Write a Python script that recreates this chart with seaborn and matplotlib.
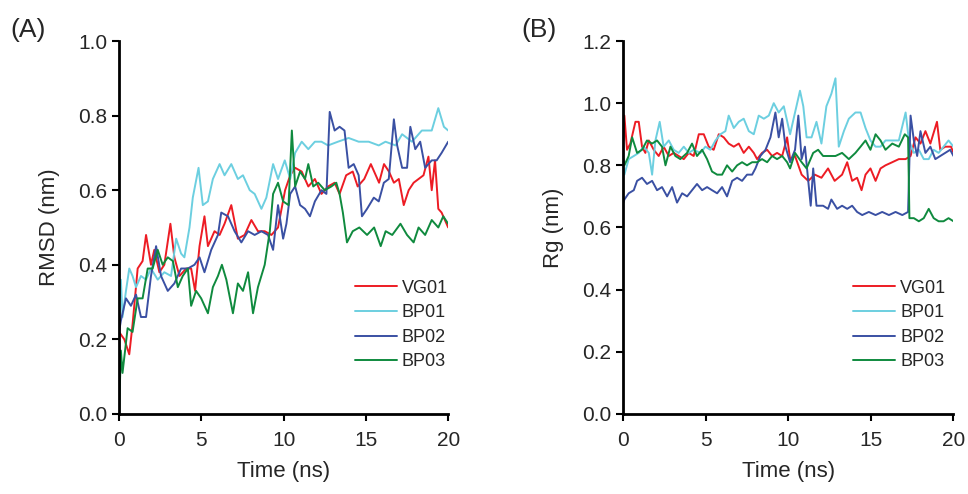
import pandas as pd
import matplotlib
matplotlib.use("Agg")
import matplotlib.pyplot as plt
import seaborn as sns

series_names = ["VG01", "BP01", "BP02", "BP03"]
colors = {"VG01": "#ed1c24", "BP01": "#6ccfe0", "BP02": "#3a50a3", "BP03": "#0f8a3e"}

# (A) RMSD (nm) vs time (ns)
rmsd_vg01_t = [0, 0.32, 0.62, 0.82, 1.13, 1.43, 1.64, 1.94, 2.14, 2.45, 2.75, 3.12, 3.36, 3.67, 4.08,
               4.38, 4.62, 4.89, 5.19, 5.40, 5.80, 6.11, 6.41, 6.82, 7.22, 7.63, 8.04, 8.44, 8.85, 9.26,
               9.66, 10.09, 10.4, 10.7, 11.1, 11.5, 11.9, 12.3, 12.7, 13.1, 13.4, 13.8, 14.2, 14.5,
               14.9, 15.3, 15.5, 15.8, 16.1, 16.4, 16.7, 17.0, 17.3, 17.6, 17.9, 18.2, 18.5, 18.8,
               19.0, 19.2, 19.4, 19.6, 20]
rmsd_vg01 = [0.22, 0.20, 0.16, 0.24, 0.39, 0.41, 0.48, 0.40, 0.44, 0.38, 0.40, 0.51, 0.42, 0.37, 0.39,
             0.39, 0.33, 0.45, 0.53, 0.45, 0.49, 0.48, 0.51, 0.56, 0.47, 0.48, 0.52, 0.49, 0.49, 0.48,
             0.50, 0.60, 0.64, 0.66, 0.65, 0.61, 0.63, 0.59, 0.61, 0.62, 0.59, 0.64, 0.65, 0.61,
             0.63, 0.67, 0.65, 0.62, 0.67, 0.65, 0.62, 0.63, 0.56, 0.60, 0.62, 0.63, 0.64, 0.69,
             0.60, 0.68, 0.55, 0.54, 0.50]

rmsd_bp01_t = [0, 0.11, 0.21, 0.42, 0.62, 0.82, 1.03, 1.33, 1.64, 1.94, 2.35, 2.75, 3.16, 3.47, 3.77,
               3.97, 4.28, 4.48, 4.83, 5.09, 5.40, 5.70, 6.11, 6.41, 6.82, 7.22, 7.53, 7.94, 8.24, 8.65,
               8.95, 9.36, 9.66, 10.07, 10.4, 10.7, 11.1, 11.5, 11.9, 12.3, 12.7, 13.3, 13.95, 14.56,
               15.17, 15.78, 16.19, 16.8, 17.2, 17.8, 18.4, 19.0, 19.4, 19.74, 20]
rmsd_bp01 = [0.30, 0.36, 0.26, 0.33, 0.39, 0.37, 0.34, 0.37, 0.36, 0.39, 0.36, 0.38, 0.37, 0.47, 0.43,
             0.42, 0.50, 0.58, 0.66, 0.56, 0.57, 0.63, 0.67, 0.64, 0.67, 0.63, 0.64, 0.60, 0.59, 0.55,
             0.58, 0.67, 0.63, 0.68, 0.63, 0.70, 0.73, 0.71, 0.73, 0.73, 0.72, 0.73, 0.74, 0.73,
             0.73, 0.72, 0.73, 0.72, 0.75, 0.73, 0.76, 0.76, 0.82, 0.77, 0.76]

rmsd_bp02_t = [0, 0.11, 0.42, 0.72, 1.03, 1.33, 1.64, 1.94, 2.25, 2.55, 2.96, 3.36, 3.77, 4.18, 4.58,
               4.89, 5.19, 5.60, 6.01, 6.21, 6.62, 7.02, 7.43, 7.84, 8.24, 8.65, 9.05, 9.36, 9.66, 9.97,
               10.17, 10.4, 10.7, 11.0, 11.3, 11.6, 11.9, 12.3, 12.6, 12.8, 13.1, 13.4, 13.7, 13.95,
               14.26, 14.56, 14.76, 15.07, 15.48, 15.78, 16.09, 16.39, 16.7, 16.9, 17.2, 17.5, 17.7,
               18.0, 18.3, 18.6, 19.0, 19.3, 19.6, 20]
rmsd_bp02 = [0.22, 0.25, 0.31, 0.29, 0.32, 0.26, 0.26, 0.37, 0.45, 0.37, 0.33, 0.35, 0.39, 0.39, 0.40,
             0.42, 0.38, 0.44, 0.48, 0.54, 0.53, 0.49, 0.46, 0.49, 0.48, 0.49, 0.48, 0.44, 0.56, 0.47,
             0.51, 0.59, 0.61, 0.56, 0.55, 0.53, 0.57, 0.60, 0.59, 0.81, 0.76, 0.77, 0.76, 0.66,
             0.67, 0.64, 0.53, 0.55, 0.58, 0.57, 0.62, 0.63, 0.79, 0.72, 0.66, 0.66, 0.77, 0.71,
             0.73, 0.66, 0.68, 0.68, 0.70, 0.73]

rmsd_bp03_t = [0, 0.11, 0.21, 0.52, 0.82, 1.13, 1.43, 1.74, 2.04, 2.35, 2.65, 2.96, 3.27, 3.57, 3.87,
               4.18, 4.38, 4.68, 4.99, 5.40, 5.70, 6.01, 6.25, 6.52, 6.92, 7.22, 7.53, 7.84, 8.14, 8.44,
               8.85, 9.16, 9.36, 9.66, 9.97, 10.3, 10.5, 10.7, 11.0, 11.3, 11.5, 11.8, 12.1, 12.5,
               12.9, 13.2, 13.4, 13.6, 13.85, 14.2, 14.6, 15.07, 15.5, 15.9, 16.2, 16.6, 17.1, 17.5,
               17.9, 18.2, 18.6, 19.0, 19.4, 19.7, 20]
rmsd_bp03 = [0.0, 0.17, 0.11, 0.23, 0.22, 0.31, 0.31, 0.39, 0.39, 0.44, 0.40, 0.42, 0.41, 0.34, 0.37,
             0.39, 0.29, 0.33, 0.31, 0.27, 0.34, 0.37, 0.40, 0.36, 0.27, 0.35, 0.33, 0.38, 0.27, 0.34,
             0.40, 0.49, 0.59, 0.62, 0.57, 0.56, 0.76, 0.61, 0.65, 0.63, 0.67, 0.61, 0.62, 0.60,
             0.61, 0.62, 0.59, 0.54, 0.46, 0.49, 0.50, 0.48, 0.50, 0.45, 0.49, 0.48, 0.51, 0.48,
             0.46, 0.50, 0.48, 0.52, 0.50, 0.53, 0.51]

# (B) Rg (nm) vs time (ns)
rg_vg01_t = [0, 0.06, 0.22, 0.42, 0.73, 0.93, 1.13, 1.33, 1.54, 1.84, 2.14, 2.44, 2.75, 3.05, 3.35,
             3.66, 3.96, 4.26, 4.57, 4.87, 5.17, 5.47, 5.78, 6.08, 6.38, 6.69, 6.99, 7.29, 7.60, 7.90,
             8.10, 8.40, 8.71, 9.01, 9.31, 9.62, 9.92, 10.1, 10.4, 10.8, 11.2, 11.6, 12.0, 12.4, 12.8,
             13.25, 13.56, 13.86, 14.16, 14.43, 14.67, 14.97, 15.28, 15.58, 15.88, 16.29, 16.69,
             17.1, 17.4, 17.7, 18.0, 18.3, 18.6, 19.0, 19.2, 19.5, 19.85, 20]
rg_vg01 = [0.88, 0.96, 0.85, 0.87, 0.94, 0.94, 0.86, 0.84, 0.88, 0.85, 0.83, 0.86, 0.83, 0.84, 0.83,
           0.82, 0.84, 0.83, 0.90, 0.90, 0.86, 0.85, 0.90, 0.89, 0.87, 0.86, 0.87, 0.84, 0.86, 0.84,
           0.82, 0.84, 0.85, 0.83, 0.84, 0.83, 0.89, 0.82, 0.83, 0.77, 0.75, 0.77, 0.76, 0.79, 0.75,
           0.77, 0.81, 0.75, 0.76, 0.72, 0.77, 0.79, 0.75, 0.79, 0.80, 0.81, 0.82,
           0.82, 0.83, 0.89, 0.87, 0.91, 0.87, 0.94, 0.85, 0.86, 0.86, 0.84]

rg_bp01_t = [0, 0.06, 0.32, 0.63, 0.93, 1.23, 1.54, 1.74, 1.94, 2.20, 2.44, 2.75, 3.05, 3.35, 3.66,
             3.96, 4.26, 4.67, 4.97, 5.27, 5.58, 5.88, 6.18, 6.38, 6.69, 6.99, 7.29, 7.60, 7.90, 8.20,
             8.51, 8.81, 9.11, 9.41, 9.72, 10.1, 10.4, 10.7, 10.9, 11.1, 11.4, 11.7, 12.0, 12.3, 12.6,
             12.85, 13.05, 13.36, 13.66, 14.06, 14.37, 14.67, 14.97, 15.28, 15.58, 15.88, 16.29,
             16.69, 17.1, 17.3, 17.6, 17.9, 18.2, 18.5, 18.8, 19.1, 19.4, 19.7, 20]
rg_bp01 = [0.79, 0.77, 0.82, 0.83, 0.84, 0.86, 0.84, 0.77, 0.88, 0.94, 0.86, 0.88, 0.85, 0.84, 0.86,
           0.84, 0.85, 0.84, 0.86, 0.85, 0.88, 0.90, 0.91, 0.96, 0.92, 0.94, 0.95, 0.91, 0.90, 0.96,
           0.95, 0.96, 1.00, 0.97, 0.99, 0.90, 0.97, 1.04, 0.99, 0.89, 0.89, 0.94, 0.87, 0.99, 1.03,
           1.08, 0.86, 0.91, 0.95, 0.97, 0.97, 0.92, 0.88, 0.86, 0.86, 0.88, 0.88,
           0.88, 0.97, 0.88, 0.84, 0.85, 0.82, 0.82, 0.85, 0.84, 0.86, 0.88, 0.86]

rg_bp02_t = [0, 0.06, 0.32, 0.63, 0.83, 1.13, 1.43, 1.74, 2.04, 2.34, 2.65, 2.95, 3.25, 3.56, 3.86,
             4.16, 4.46, 4.77, 5.07, 5.37, 5.68, 5.98, 6.28, 6.59, 6.89, 7.19, 7.49, 7.80, 8.0, 8.30,
             8.61, 8.91, 9.21, 9.41, 9.62, 9.82, 10.1, 10.4, 10.6, 10.8, 11.0, 11.2, 11.35, 11.5, 11.7,
             12.1, 12.4, 12.6, 12.95, 13.25, 13.56, 13.86, 14.16, 14.47, 14.87, 15.28, 15.68, 16.09,
             16.49, 16.9, 17.25, 17.4, 17.6, 17.8, 18.0, 18.3, 18.6, 18.9, 19.2, 19.5, 19.8, 20]
rg_bp02 = [0.68, 0.69, 0.71, 0.72, 0.75, 0.76, 0.74, 0.75, 0.72, 0.73, 0.70, 0.73, 0.68, 0.71, 0.70,
           0.72, 0.74, 0.72, 0.73, 0.72, 0.71, 0.73, 0.70, 0.75, 0.76, 0.75, 0.77, 0.77, 0.79, 0.83,
           0.85, 0.89, 0.97, 0.89, 0.95, 0.86, 0.81, 0.85, 0.96, 0.82, 0.86, 0.75, 0.67, 0.79, 0.67,
           0.67, 0.66, 0.69, 0.66, 0.67, 0.66, 0.67, 0.65, 0.64, 0.65, 0.64, 0.65, 0.64,
           0.65, 0.64, 0.65, 0.96, 0.88, 0.83, 0.91, 0.84, 0.86, 0.82, 0.83, 0.84, 0.85, 0.83]

rg_bp03_t = [0, 0.06, 0.32, 0.53, 0.83, 1.13, 1.43, 1.74, 2.04, 2.34, 2.55, 2.85, 3.15, 3.45, 3.86,
             4.16, 4.46, 4.77, 5.07, 5.37, 5.68, 5.98, 6.28, 6.59, 6.89, 7.19, 7.49, 7.80, 8.10, 8.40,
             8.71, 9.01, 9.31, 9.62, 9.92, 10.1, 10.4, 10.8, 11.1, 11.5, 11.8, 12.1, 12.4, 12.85,
             13.25, 13.66, 14.06, 14.37, 14.67, 14.97, 15.28, 15.58, 15.88, 16.29, 16.69, 17.05,
             17.25, 17.33, 17.6, 17.9, 18.2, 18.5, 18.8, 19.1, 19.4, 19.7, 20]
rg_bp03 = [0.82, 0.80, 0.83, 0.89, 0.84, 0.85, 0.88, 0.87, 0.88, 0.86, 0.80, 0.86, 0.83, 0.82, 0.84,
           0.87, 0.83, 0.85, 0.82, 0.78, 0.77, 0.77, 0.80, 0.78, 0.80, 0.81, 0.80, 0.81, 0.81, 0.82,
           0.81, 0.83, 0.82, 0.83, 0.81, 0.79, 0.84, 0.81, 0.79, 0.84, 0.85, 0.83, 0.83, 0.83,
           0.84, 0.82, 0.84, 0.86, 0.88, 0.85, 0.90, 0.88, 0.85, 0.87, 0.86, 0.90,
           0.89, 0.63, 0.63, 0.62, 0.63, 0.66, 0.63, 0.62, 0.62, 0.63, 0.62]


def long_frame(pairs):
    rows = []
    for name, (ts, vs) in zip(series_names, pairs):
        for t, v in zip(ts, vs):
            rows.append({"time": t, "value": v, "series": name})
    return pd.DataFrame(rows)


df_rmsd = long_frame([(rmsd_vg01_t, rmsd_vg01), (rmsd_bp01_t, rmsd_bp01),
                      (rmsd_bp02_t, rmsd_bp02), (rmsd_bp03_t, rmsd_bp03)])
df_rg = long_frame([(rg_vg01_t, rg_vg01), (rg_bp01_t, rg_bp01),
                    (rg_bp02_t, rg_bp02), (rg_bp03_t, rg_bp03)])

sns.set_style("ticks")
plt.rcParams["font.family"] = ["Liberation Sans", "DejaVu Sans"]

fig = plt.figure(figsize=(9.68, 4.94), dpi=100)
ax1 = fig.add_axes([0.123, 0.162, 0.340, 0.755])
ax2 = fig.add_axes([0.644, 0.162, 0.341, 0.755])

panels = [
    (ax1, df_rmsd, "RMSD (nm)", 1.0, "(A)", 0.717, -0.33),
    (ax2, df_rg, "Rg (nm)", 1.2, "(B)", 0.697, -0.31),
]

for ax, df, ylabel, ymax, tag, leg_x, tag_x in panels:
    sns.lineplot(data=df, x="time", y="value", hue="series", hue_order=series_names,
                 palette=colors, estimator=None, linewidth=1.4, ax=ax)
    ax.set_xlim(0, 20)
    ax.set_ylim(0, ymax)
    ax.set_xticks([0, 5, 10, 15, 20])
    ax.set_yticks([i * 0.2 for i in range(int(round(ymax / 0.2)) + 1)])
    ax.yaxis.set_major_formatter(matplotlib.ticker.FormatStrFormatter("%.1f"))
    ax.set_xlabel("Time (ns)", fontsize=16, labelpad=8)
    ax.set_ylabel(ylabel, fontsize=16, labelpad=13)
    ax.tick_params(labelsize=15, direction="out", length=5, width=1.5, color="black")
    ax.tick_params(axis="x", pad=7)
    for side in ["left", "bottom"]:
        ax.spines[side].set_linewidth(2)
        ax.spines[side].set_color("black")
    sns.despine(ax=ax)
    ax.legend(loc="upper left", bbox_to_anchor=(leg_x, 0.36), frameon=False, fontsize=13,
              handlelength=2.3, handletextpad=0.3, labelspacing=0.42, borderpad=0,
              borderaxespad=0)
    ax.text(tag_x, 1.03, tag, transform=ax.transAxes, fontsize=19, va="center", ha="left")

fig.savefig("out.png", dpi=100)
plt.close(fig)
